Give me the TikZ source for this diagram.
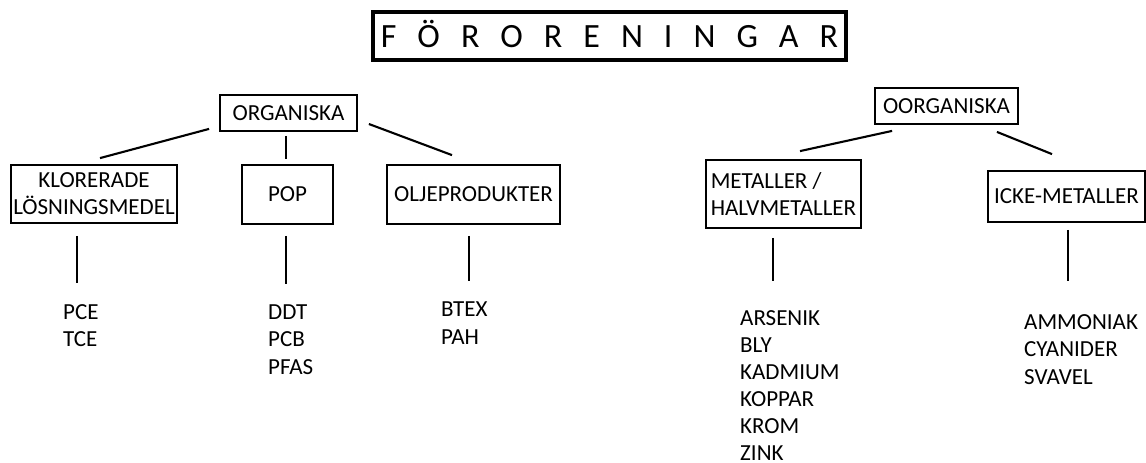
\documentclass[tikz,border=0pt]{standalone}
\usepackage{fontspec}
\setmainfont{Carlito}
\usetikzlibrary{calc}
\begin{document}
\begin{tikzpicture}[x=1pt,y=-1pt,
  box/.style={draw,line width=1.8pt,inner sep=0pt,align=center,font=\fontsize{23}{27}\selectfont},
  one/.style={text height=14.8pt,text depth=0pt},
  item/.style={anchor=base west,inner sep=0pt,font=\fontsize{23}{27}\selectfont},
  link/.style={line width=2.1pt}]
\useasboundingbox (0,0) rectangle (1146,463);
\node[box,line width=3.2pt,minimum width=473pt,minimum height=48pt,text height=22pt,text depth=0pt,font=\fontsize{34}{40}\selectfont] (title) at (609.5,36)
  {F\hspace{21pt}Ö\hspace{21pt}R\hspace{21pt}O\hspace{21pt}R\hspace{21pt}E\hspace{21pt}N\hspace{21pt}I\hspace{21pt}N\hspace{21pt}G\hspace{21pt}A\hspace{21pt}R};
\node[box,one,minimum width=137pt,minimum height=36pt] (org) at (288.5,113) {ORGANISKA};
\node[box,minimum width=166pt,minimum height=58pt] (klor) at (94,194) {KLORERADE\\LÖSNINGSMEDEL};
\node[box,one,minimum width=91pt,minimum height=59pt] (pop) at (287.5,194.5) {POP};
\node[box,one,minimum width=173pt,minimum height=59pt] (olje) at (473.5,194.5) {OLJEPRODUKTER};
\node[box,one,minimum width=143pt,minimum height=36pt] (oorg) at (946.5,106) {OORGANISKA};
\node[box,align=left,minimum width=155pt,minimum height=68pt] (metal) at (783.5,194) {METALLER /\\HALVMETALLER};
\node[box,one,minimum width=157pt,minimum height=51pt] (icke) at (1066.5,196.5) {ICKE-METALLER};
% items
\node[item] (pce) at (63,319) {PCE};
\node[item] (tce) at (63,346) {TCE};
\node[item] (ddt) at (268,319) {DDT};
\node[item] (pcb) at (268,346) {PCB};
\node[item] (pfas) at (268,374) {PFAS};
\node[item] (btex) at (441,316) {BTEX};
\node[item] (pah) at (441,344) {PAH};
\node[item] (ars) at (740,325) {ARSENIK};
\node[item] (bly) at (740,352) {BLY};
\node[item] (kad) at (740,379) {KADMIUM};
\node[item] (kop) at (740,406) {KOPPAR};
\node[item] (krom) at (740,433) {KROM};
\node[item] (zink) at (740,460) {ZINK};
\node[item] (amm) at (1024,329) {AMMONIAK};
\node[item] (cyan) at (1024,356) {CYANIDER};
\node[item] (svav) at (1024,384) {SVAVEL};
% connectors
\draw[link] ($(org.south west)+(-10,-3)$) -- ($(klor.north)+(6,-6)$);
\draw[link] ($(org.south)+(-2.5,4)$) -- ($(pop.north)+(-1.5,-5)$);
\draw[link] ($(org.east)+(11,11)$) -- ($(olje.north)+(-21.5,-9)$);
\draw[link] ($(oorg.south west)+(18,6)$) -- ($(metal.north)+(16.5,-8)$);
\draw[link] ($(oorg.south east)+(-22,7)$) -- ($(icke.north)+(-14.5,-16)$);
\draw[link] ($(klor.south)+(-17,12)$) -- ($(klor.south)+(-17,59)$);
\draw[link] ($(pop.south)+(-1.5,11)$) -- ($(pop.south)+(-1.5,59)$);
\draw[link] ($(olje.south)+(-4.5,11)$) -- ($(olje.south)+(-4.5,56)$);
\draw[link] ($(metal.south)+(-10.5,9)$) -- ($(metal.south)+(-10.5,52)$);
\draw[link] ($(icke.south)+(1.5,7)$) -- ($(icke.south)+(1.5,58)$);
\end{tikzpicture}
\end{document}
